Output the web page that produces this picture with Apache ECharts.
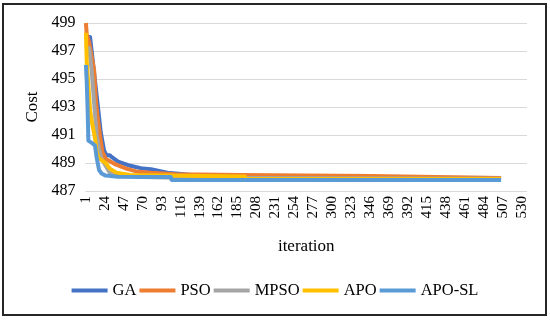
<!DOCTYPE html>
<html>
<head>
<meta charset="utf-8">
<script src="https://cdn.jsdelivr.net/npm/echarts@6/dist/echarts.min.js"></script>
<style>html,body{margin:0;padding:0;background:#fff}#c{width:550px;height:322px}</style>
</head>
<body>
<div id="c"></div>
<script>
// Categories: iteration numbers on the x axis
const iterations = Array.from({length: 536}, (_, i) => String(i + 1));
const yTicks = { min: 487, max: 499, step: 2 };
const seriesNames = ['GA', 'PSO', 'MPSO', 'APO', 'APO-SL'];
const colors = ['#4472C4', '#ED7D31', '#A5A5A5', '#FFC000', '#5B9BD5'];

const gaIter  = [1, 6, 8, 12, 16, 19, 23, 26, 30, 33, 40, 55, 70, 80, 100, 130, 200, 350, 505];
const gaCost  = [498.0, 498.0, 497.0, 494.9, 492.8, 491.2, 489.9, 489.55, 489.55, 489.4, 489.1, 488.8, 488.6, 488.55, 488.3, 488.15, 488.05, 487.95, 487.92];

const psoIter = [1, 2, 5, 11, 13, 15, 18, 21, 25, 37, 50, 62, 80, 110, 190, 191, 347, 348, 505];
const psoCost = [499.0, 498.2, 497.6, 495.6, 493.5, 492.4, 491.0, 489.8, 489.3, 488.9, 488.6, 488.4, 488.3, 488.2, 488.15, 488.07, 488.07, 487.93, 487.93];

const mpsoIter = [1, 5, 8, 11, 14, 17, 20, 24, 30, 45, 70, 110, 505];
const mpsoCost = [497.3, 497.2, 495.6, 493.3, 491.0, 490.0, 489.3, 488.9, 488.3, 488.1, 488.0, 487.95, 487.87];

const apoIter = [1, 2, 4, 6, 8, 12, 14, 16, 20, 25, 30, 38, 55, 100, 194, 195, 505];
const apoCost = [498.3, 496.2, 494.5, 492.8, 492.0, 490.8, 489.8, 489.4, 489.2, 489.0, 488.6, 488.3, 488.15, 488.1, 488.03, 487.88, 487.86];

const aposlIter = [1, 2, 3, 4, 9, 12, 14, 17, 20, 25, 40, 70, 104, 105, 505];
const aposlCost = [496.0, 494.8, 493.0, 490.6, 490.4, 490.25, 489.4, 488.5, 488.25, 488.1, 488.02, 488.0, 488.0, 487.79, 487.79];

const allIter = [gaIter, psoIter, mpsoIter, apoIter, aposlIter];
const allCost = [gaCost, psoCost, mpsoCost, apoCost, aposlCost];

const FONT = '"Liberation Serif", "Times New Roman", serif';
const chart = echarts.init(document.getElementById('c'), null, {renderer: 'canvas'});
chart.setOption({
  animation: false,
  backgroundColor: '#fff',
  grid: { left: 85.5, right: 23, top: 23, bottom: 131, containLabel: false },
  xAxis: {
    type: 'category',
    data: iterations,
    boundaryGap: true,
    name: 'iteration',
    nameLocation: 'middle',
    nameGap: 47,
    nameTextStyle: { fontFamily: FONT, fontSize: 17, color: '#000' },
    axisLine: { show: false },
    axisTick: { show: false },
    axisLabel: { interval: 22, rotate: 90, fontFamily: FONT, fontSize: 15, color: '#000', margin: 5 },
    splitLine: { show: false }
  },
  yAxis: {
    type: 'value',
    min: yTicks.min, max: yTicks.max, interval: yTicks.step,
    name: 'Cost',
    nameLocation: 'middle',
    nameGap: 44,
    nameTextStyle: { fontFamily: FONT, fontSize: 17, color: '#000' },
    axisLine: { show: false },
    axisTick: { show: false },
    axisLabel: { fontFamily: FONT, fontSize: 16, color: '#000', margin: 10 },
    splitLine: { lineStyle: { color: '#D9D9D9', width: 1 } }
  },
  legend: {
    bottom: 18,
    left: 'center',
    icon: 'rect',
    itemWidth: 36,
    itemHeight: 4,
    itemGap: 3,
    textStyle: { fontFamily: FONT, fontSize: 16.5, color: '#000' },
    data: seriesNames
  },
  graphic: [{
    type: 'rect',
    shape: { x: 3, y: 4, width: 543, height: 311 },
    style: { fill: 'none', stroke: '#262626', lineWidth: 2 },
    silent: true
  }],
  series: seriesNames.map((name, s) => ({
    name,
    type: 'line',
    symbol: 'none',
    color: colors[s],
    lineStyle: { width: 4, color: colors[s], join: 'round' },
    z: 2 + s,
    data: allIter[s].map((it, k) => [String(it), allCost[s][k]])
  }))
});
</script>
</body>
</html>
